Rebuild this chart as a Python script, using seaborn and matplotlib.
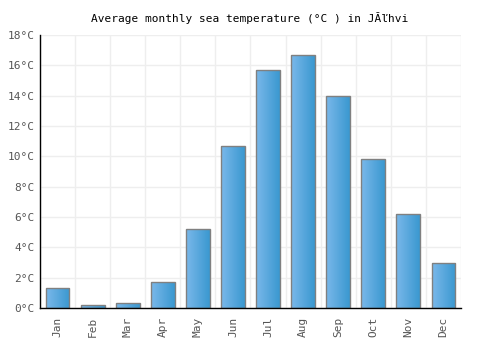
import numpy as np
import pandas as pd
import matplotlib
matplotlib.use("Agg")
import matplotlib.pyplot as plt
import seaborn as sns
from matplotlib.colors import LinearSegmentedColormap

months = ["Jan", "Feb", "Mar", "Apr", "May", "Jun", "Jul", "Aug", "Sep", "Oct", "Nov", "Dec"]
temps = [1.3, 0.2, 0.3, 1.7, 5.2, 10.7, 15.7, 16.7, 14.0, 9.8, 6.2, 3.0]
yticks = [0, 2, 4, 6, 8, 10, 12, 14, 16, 18]
ytick_labels = [f"{v}°C" for v in yticks]
title = "Average monthly sea temperature (°C ) in JĂľhvi"

sns.set_theme(style="white")
plt.rcParams['font.family'] = ['DejaVu Sans Mono', 'DejaVu Sans']

df = pd.DataFrame({"month": months, "temp": temps})
fig = plt.figure(figsize=(5, 3.5), dpi=100)
ax = fig.add_axes([0.08, 0.12, 0.842, 0.78])
sns.barplot(data=df, x="month", y="temp", ax=ax, width=0.68,
            color="#4da3dd", edgecolor="#808080", linewidth=1, zorder=3)

cmap = LinearSegmentedColormap.from_list("g", ["#7ab8ea", "#3a98d0"])
grad = np.linspace(0, 1, 64).reshape(1, -1)
for p in ax.patches:
    x0, y0 = p.get_x(), p.get_y()
    w, h = p.get_width(), p.get_height()
    im = ax.imshow(grad, cmap=cmap, extent=[x0, x0 + w, y0, y0 + h],
                   aspect="auto", zorder=3.5)
    im.set_clip_path(p)
    p.set_facecolor("none")
    p.set_zorder(4)

ax.set_xlim(-0.5, len(months) - 0.5)
ax.set_ylim(0, 18)
ax.set_yticks(yticks)
ax.set_yticklabels(ytick_labels)
ax.set_xticks(range(len(months)))
ax.set_xticklabels(months, rotation=90)
ax.set_xlabel("")
ax.set_ylabel("")
for v in yticks:
    ax.axhline(v, color="#eeeeee", linewidth=1, zorder=1)
for i in range(len(months) + 1):
    ax.axvline(i - 0.5, color="#eeeeee", linewidth=1, zorder=1)
ax.tick_params(axis="both", labelsize=8, colors="#555555", length=3, width=0.8)
ax.tick_params(axis="x", color="#000000")
ax.tick_params(axis="y", length=0, pad=4)
for s in ["top", "right"]:
    ax.spines[s].set_visible(False)
for s in ["left", "bottom"]:
    ax.spines[s].set_color("black")
    ax.spines[s].set_linewidth(1)
    ax.spines[s].set_zorder(5)
fig.text(0.5, 0.95, title, ha="center", va="center", fontsize=8, color="#000000")
fig.savefig("out.png", dpi=100)
